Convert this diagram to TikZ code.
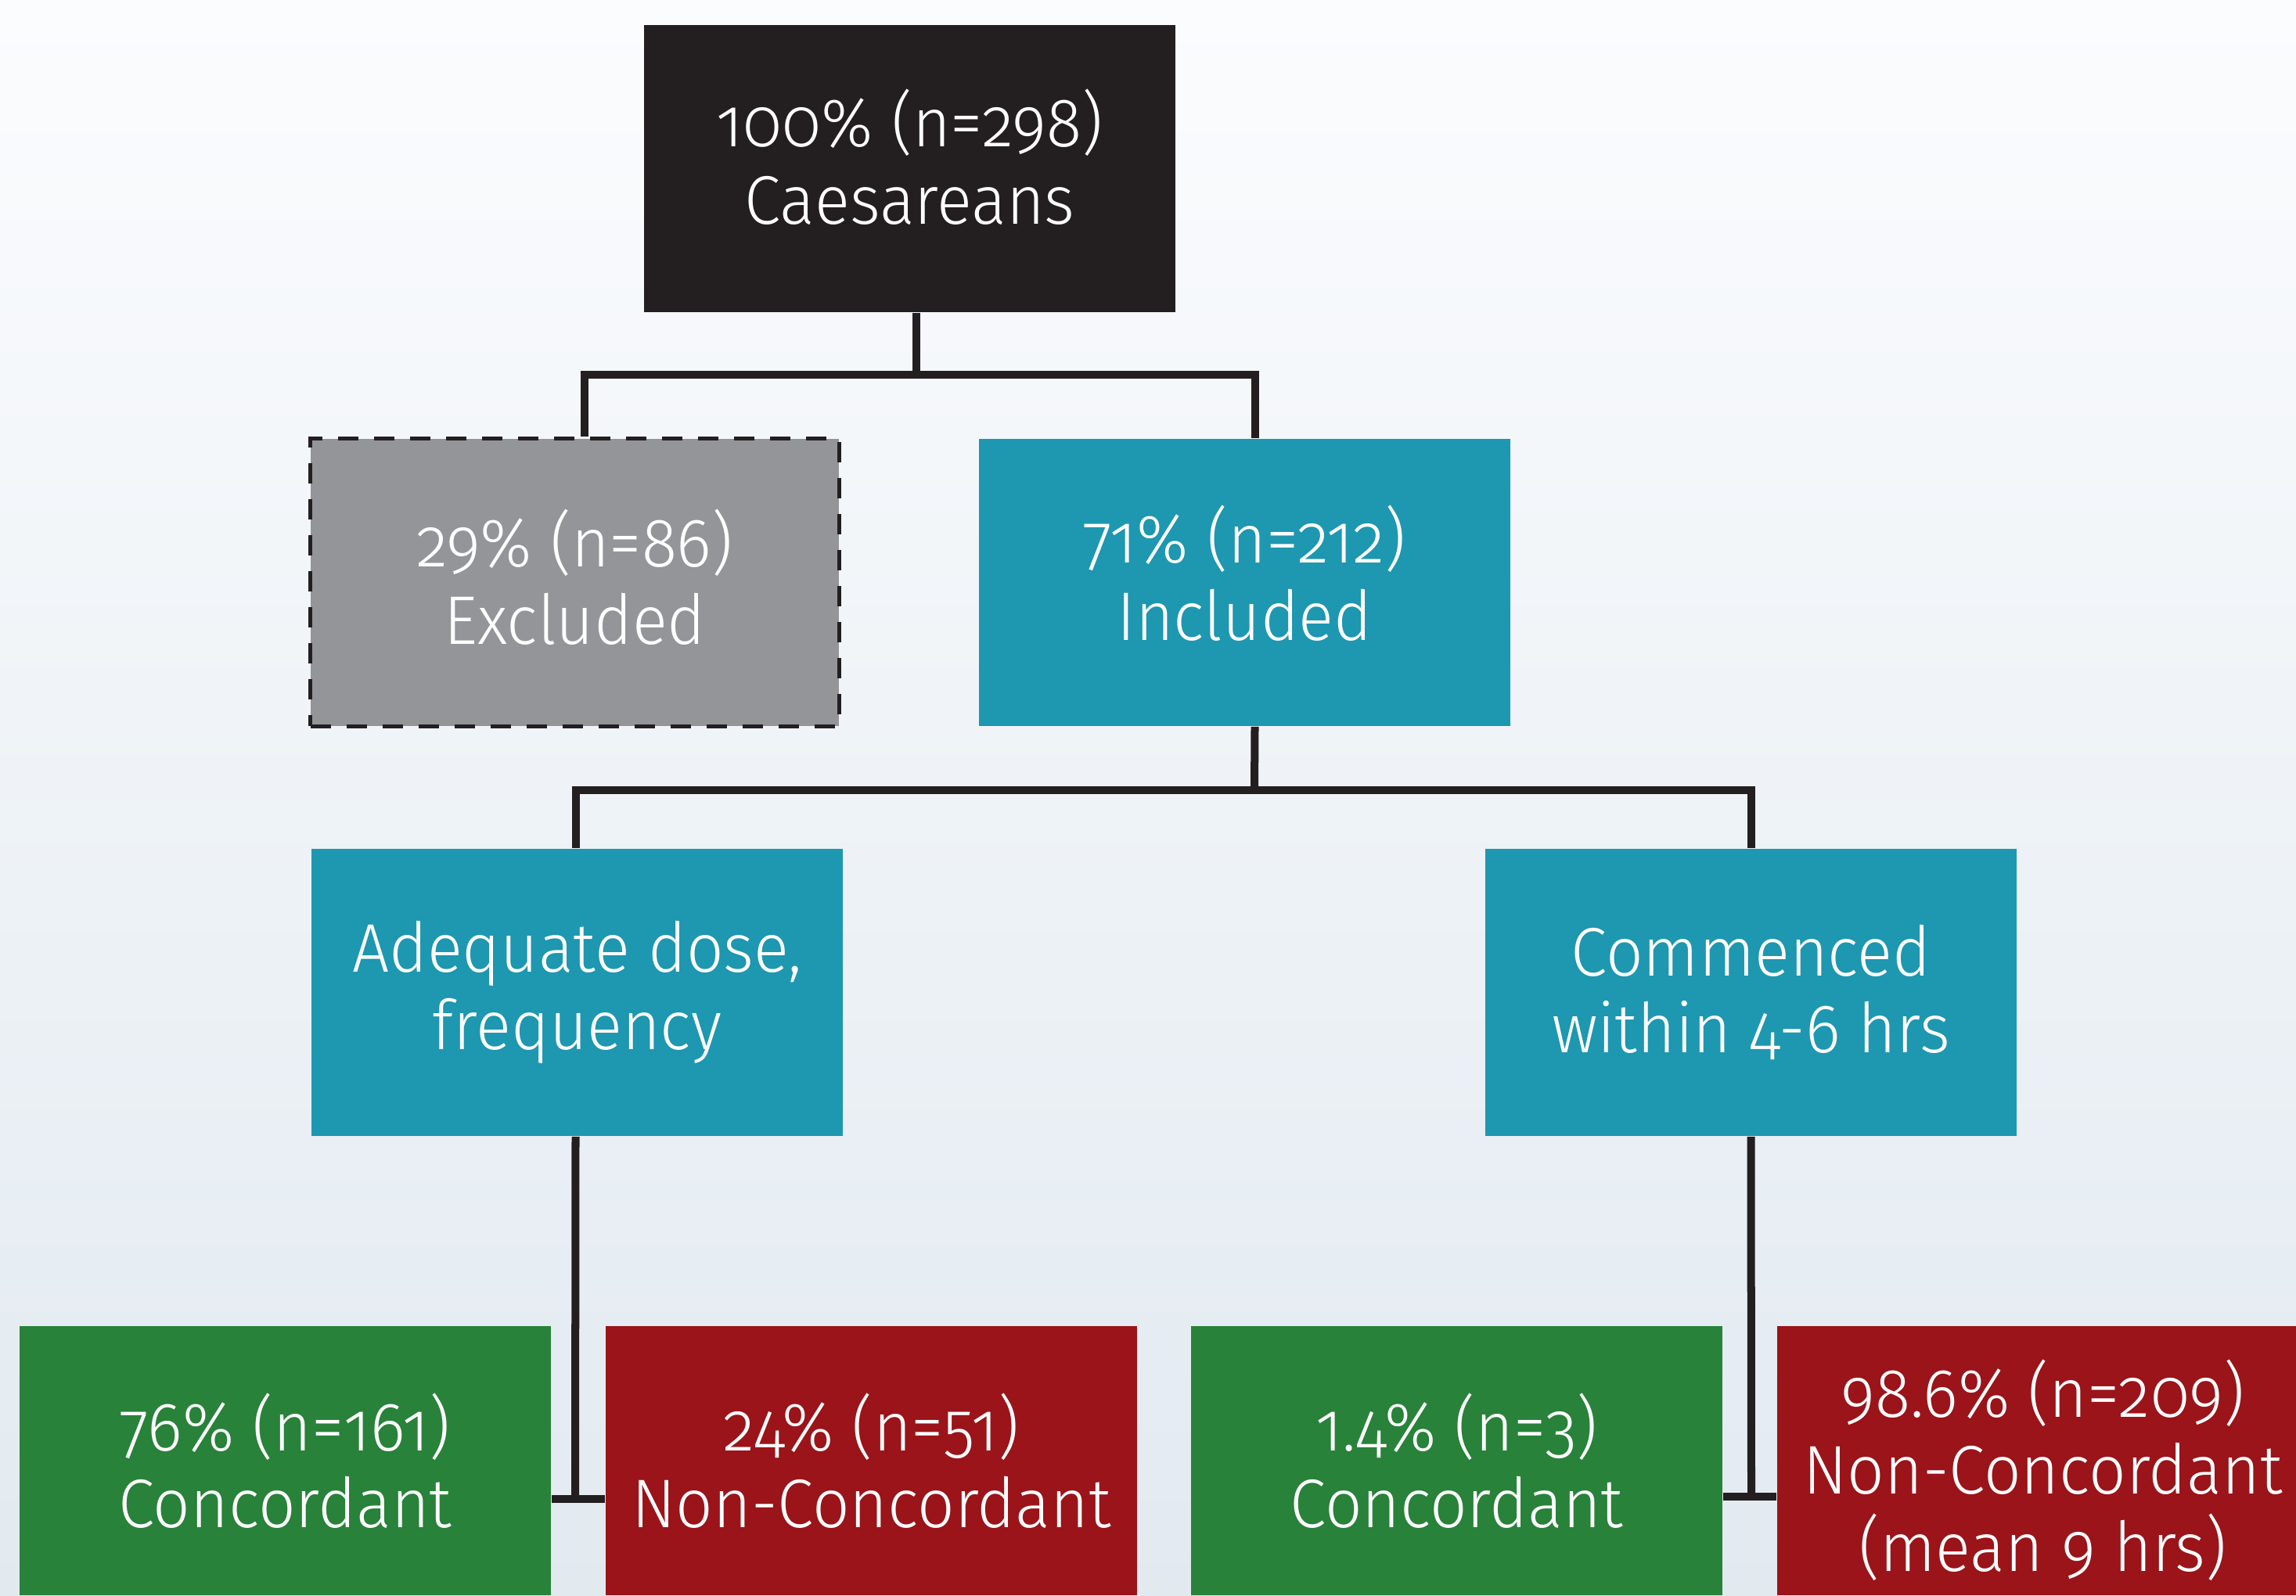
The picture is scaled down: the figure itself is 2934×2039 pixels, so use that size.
\documentclass[tikz,border=0pt]{standalone}
\usepackage{fontspec}
\setmainfont{Fira Sans Light}[Numbers=OldStyle, FakeStretch=0.95]
\definecolor{bgtop}{HTML}{FBFCFE}
\definecolor{bgmid}{HTML}{F4F7FA}
\definecolor{bgbot}{HTML}{E2EAF0}
\definecolor{boxblack}{HTML}{231F20}
\definecolor{boxgray}{HTML}{939598}
\definecolor{boxteal}{HTML}{1E97B0}
\definecolor{boxgreen}{HTML}{288239}
\definecolor{boxred}{HTML}{9A1419}
\definecolor{linec}{HTML}{231F20}
\begin{document}
\begin{tikzpicture}[x=0.01cm,y=-0.01cm,
  boxtext/.style={inner sep=0pt, align=center, text=white, font=\fontsize{25}{28}\selectfont},
  box/.style={rectangle, boxtext, minimum width=6.79cm, minimum height=3.67cm},
  lowbox/.style={box, minimum height=3.44cm},
  conn/.style={line width=0.1cm, draw=linec}]
\useasboundingbox (0,0) rectangle (2934,2039);
\shade[top color=bgtop, middle color=bgmid, bottom color=bgbot] (0,0) rectangle (2934,2039);
\clip (0,0) rectangle (2934,2039);
% nodes
\node[box, fill=boxblack,
  label={[boxtext, yshift=0.15cm]center:{100\% (n=298)\\Caesareans}}] (top) at (1162.5,215.5) {};
\node[box, fill=boxgray, minimum width=6.75cm, draw=linec, line width=0.05cm,
  dash pattern=on 0.26cm off 0.2cm,
  label={[boxtext, yshift=0.07cm]center:{29\% (n=86)\\Excluded}}] (excl) at (734.5,744.5) {};
\node[box, fill=boxteal,
  label={[boxtext, yshift=0.12cm]center:{71\% (n=212)\\Included}}] (incl) at (1590.5,744.5) {};
\node[box, fill=boxteal] (adeq) at (737.5,1268.5) {Adequate dose,\\frequency};
\node[box, fill=boxteal] (comm) at (2237.5,1268.5) {Commenced\\within 4-6 hrs};
\node[lowbox, fill=boxgreen] (conc1) at (364.5,1867) {76\% (n=161)\\Concordant};
\node[lowbox, fill=boxred] (ncon1) at (1113.5,1867) {24\% (n=51)\\Non-Concordant};
\node[lowbox, fill=boxgreen] (conc2) at (1861.5,1867) {1.4\% (n=3)\\Concordant};
\node[lowbox, fill=boxred,
  label={[boxtext, yshift=-0.12cm]center:{98.6\% (n=209)\\Non-Concordant\\(mean 9 hrs)}}] (ncon2) at (2610.5,1867) {};
% junctions
\coordinate (j1) at (1171,479);
\coordinate (j2) at (1603,1010);
\coordinate (s1) at (735,1916);
\coordinate (s2) at (2238,1913);
% connectors
\draw[conn] (top.south -| j1) -- (j1);
\draw[conn] (j1) -| ([xshift=0.12cm]excl.north);
\draw[conn] (j1) -| ([xshift=0.13cm]incl.north);
\draw[conn] ([xshift=0.13cm]incl.south) -- (j2);
\draw[conn] (j2) -| ([xshift=-0.02cm]adeq.north);
\draw[conn] (j2) -| (comm.north);
\draw[conn] ([xshift=-0.02cm]adeq.south) -- (s1);
\draw[conn] (conc1.east |- s1) -- (ncon1.west |- s1);
\draw[conn] (comm.south) -- (s2);
\draw[conn] (conc2.east |- s2) -- (ncon2.west |- s2);
\end{tikzpicture}
\end{document}
